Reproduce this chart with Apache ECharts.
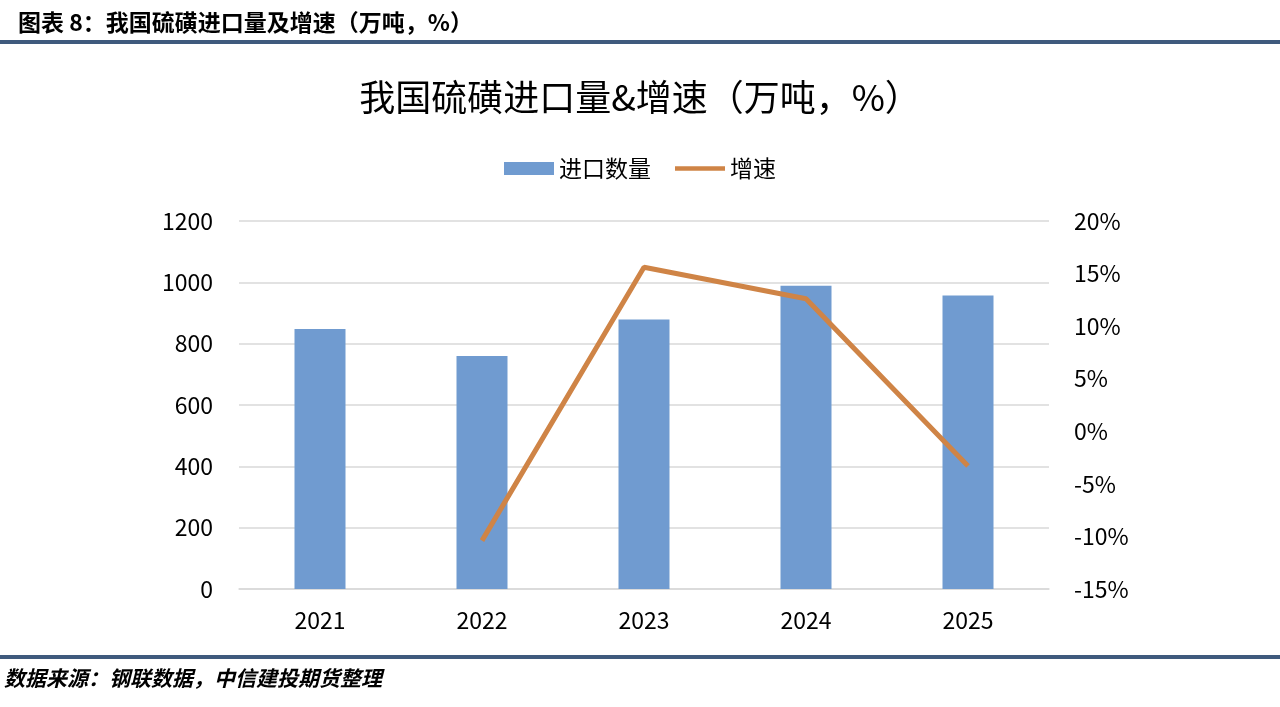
<!DOCTYPE html>
<html><head><meta charset="utf-8">
<script src="https://cdn.jsdelivr.net/npm/echarts@6/dist/echarts.min.js"></script>
<style>html,body{margin:0;padding:0;background:#fff}#c{width:1280px;height:707px}</style>
</head><body><div id="c"></div>
<script>
const categories = ['2021','2022','2023','2024','2025'];
const importVolume = [848, 760, 879, 989, 957];
const growthRate = [null, -10.4, 15.6, 12.6, -3.3];
const leftTicks = {min:0, max:1200, interval:200};
const rightTicks = {min:-15, max:20, interval:5};

const FONT = "'Microsoft YaHei','Noto Sans CJK SC','Noto Sans',sans-serif";
const chart = echarts.init(document.getElementById('c'));
chart.setOption({
  backgroundColor:'#fff',
  textStyle:{fontFamily:FONT},
  title:{text:'我国硫磺进口量&增速（万吨，%）', left:'center', top:74,
    textStyle:{fontFamily:FONT, fontSize:36, fontWeight:'normal', color:'#000'}},
  legend:{top:152, left:'center', itemGap:24, itemWidth:50, itemHeight:13,
    textStyle:{fontFamily:FONT, fontSize:23, color:'#000'},
    data:[{name:'进口数量', icon:'rect'},
          {name:'增速', icon:'path://M0,0 L50,0 L50,4.5 L0,4.5 Z', itemStyle:{color:'#cf8446'}}]},
  grid:{left:239, right:231, top:221, bottom:118, containLabel:false},
  xAxis:{type:'category', data:categories,
    axisLine:{show:true, lineStyle:{color:'#d9d9d9', width:1.5}},
    axisTick:{show:false},
    axisLabel:{fontFamily:FONT, fontSize:23, color:'#000', margin:20}},
  yAxis:[
    {type:'value', min:leftTicks.min, max:leftTicks.max, interval:leftTicks.interval,
     axisLine:{show:false}, axisTick:{show:false},
     axisLabel:{fontFamily:FONT, fontSize:23, color:'#000', margin:26, formatter:function(v){return String(v);}},
     splitLine:{lineStyle:{color:'#d9d9d9', width:1.5}}},
    {type:'value', min:rightTicks.min, max:rightTicks.max, interval:rightTicks.interval,
     axisLine:{show:false}, axisTick:{show:false}, splitLine:{show:false},
     axisLabel:{fontFamily:FONT, fontSize:23, color:'#000', margin:25, formatter:'{value}%'}}
  ],
  series:[
    {name:'进口数量', type:'bar', data:importVolume, barWidth:51,
     itemStyle:{color:'#709bd0'}},
    {name:'增速', type:'line', yAxisIndex:1, data:growthRate, symbol:'none',
     lineStyle:{color:'#cf8446', width:5}, itemStyle:{color:'#cf8446'}}
  ],
  graphic:[
    {type:'text', left:18, top:11, style:{text:'图表 8：我国硫磺进口量及增速（万吨，%）',
      font:"bold 23px "+FONT, fill:'#000'}},
    {type:'rect', left:0, top:40, shape:{width:1280, height:4}, style:{fill:'#3f5a7d'}},
    {type:'rect', left:0, top:655, shape:{width:1280, height:4}, style:{fill:'#3f5a7d'}},
    {type:'text', left:4, top:668, style:{text:'数据来源：钢联数据，中信建投期货整理',
      font:"italic bold 21px "+FONT, fill:'#000'}}
  ]
});
</script></body></html>
